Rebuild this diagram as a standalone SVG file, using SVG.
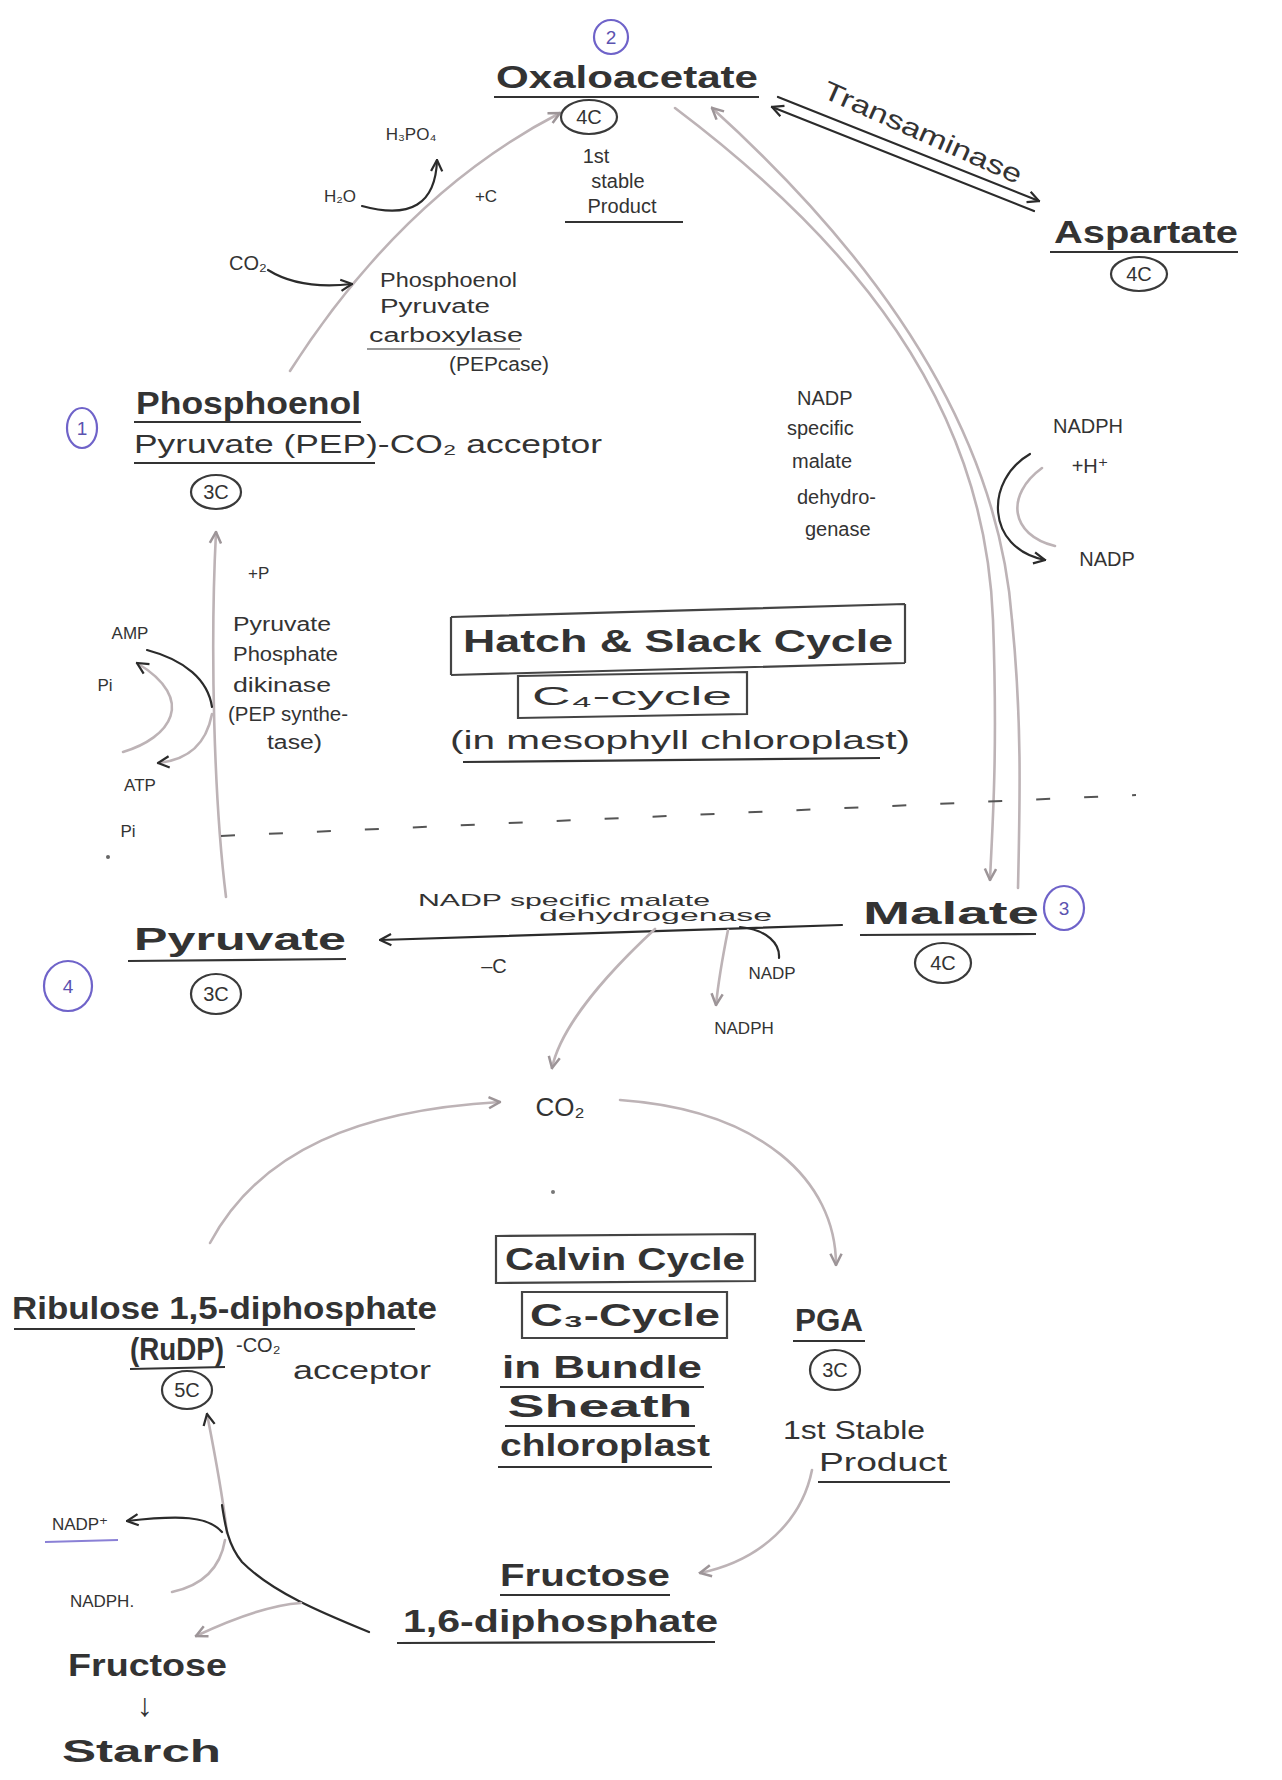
<svg xmlns="http://www.w3.org/2000/svg" width="1282" height="1780" viewBox="0 0 1282 1780">
<defs>
<style>
text{font-family:"Liberation Sans","DejaVu Sans",sans-serif;fill:#333333}
.t{font-size:20px}
.tb{font-size:32px;font-weight:bold}
.tm{font-size:26px}
.ts{font-size:17px}
.dk{fill:none;stroke:#2b2b2b;stroke-width:2.2;stroke-linecap:round}
.ft{fill:none;stroke:#bdb3b6;stroke-width:2.6;stroke-linecap:round}
.ul{fill:none;stroke:#333;stroke-width:2.2}
.c{fill:none;stroke:#3a3a3a;stroke-width:2.2}
.p{fill:none;stroke:#6f63c9;stroke-width:2.2}
.pt{fill:#5b52b0;font-size:19px}
.box{fill:none;stroke:#444;stroke-width:2.2}
</style>
<marker id="ad" viewBox="0 0 10 10" refX="9" refY="5" markerWidth="14" markerHeight="14" markerUnits="userSpaceOnUse" orient="auto-start-reverse"><path d="M1 1 L9 5 L1 9" fill="none" stroke="#2b2b2b" stroke-width="1.6"/></marker>
<marker id="af" viewBox="0 0 10 10" refX="9" refY="5" markerWidth="14" markerHeight="14" markerUnits="userSpaceOnUse" orient="auto-start-reverse"><path d="M1 1 L9 5 L1 9" fill="none" stroke="#9d9598" stroke-width="1.8"/></marker>
</defs>
<rect width="1282" height="1780" fill="#ffffff"/>

<g id="connectors">
<path class="ft" d="M290 371 C345 285 430 180 560 113" marker-end="url(#af)"/>
<path class="dk" d="M362 206 Q435 226 437 160" marker-end="url(#ad)"/>
<path class="dk" d="M268 270 Q300 290 352 284" marker-end="url(#ad)"/>
<path class="dk" d="M778 97 L1039 201" marker-end="url(#ad)"/>
<path class="dk" d="M772 107 L1034 211" marker-start="url(#ad)"/>
<path class="ft" d="M675 108 C850 240 985 400 993 620 C998 760 992 830 990 880" marker-end="url(#af)"/>
<path class="ft" d="M1018 888 C1020 800 1022 720 1012 620 C998 430 880 260 712 108" marker-end="url(#af)"/>
<path class="dk" d="M1030 454 C985 480 985 548 1045 560" marker-end="url(#ad)"/>
<path class="ft" d="M1042 468 C1005 495 1010 535 1055 546"/>
<path class="ft" d="M226 897 C214 800 210 650 216 532" marker-end="url(#af)"/>
<path class="dk" d="M147 650 C185 660 208 680 212 707"/>
<path class="ft" d="M123 752 C170 738 198 700 137 663" marker-end="url(#ad)"/>
<path class="ft" d="M212 714 C206 745 188 760 158 763" marker-end="url(#ad)"/>
<path d="M221 836 L1136 795" fill="none" stroke="#555" stroke-width="2" stroke-dasharray="14 34"/>
<path class="dk" d="M842 925 L380 940" marker-end="url(#ad)"/>
<path class="dk" d="M740 927 C768 930 780 944 779 958"/>
<path class="ft" d="M728 930 C722 960 718 985 716 1005" marker-end="url(#af)"/>
<path class="ft" d="M655 929 C600 980 560 1030 552 1068" marker-end="url(#af)"/>
<path class="ft" d="M210 1243 C260 1150 360 1110 500 1102" marker-end="url(#af)"/>
<path class="ft" d="M620 1100 C760 1110 836 1180 836 1265" marker-end="url(#af)"/>
<path class="ft" d="M812 1470 C802 1520 762 1560 700 1573" marker-end="url(#af)"/>
<path class="ft" d="M227 1533 C222 1490 214 1450 207 1414" marker-end="url(#ad)"/>
<path class="dk" d="M369 1632 C320 1612 272 1592 242 1562 C228 1545 225 1525 222 1505"/>
<path class="dk" d="M222 1532 C208 1516 180 1515 127 1521" marker-end="url(#ad)"/>
<path class="ft" d="M225 1540 C220 1570 200 1586 172 1592"/>
<path class="ft" d="M301 1603 C270 1605 230 1620 196 1636" marker-end="url(#af)"/>
</g>

<g id="n2"><ellipse class="p" cx="611" cy="37" rx="17" ry="17"/><text class="pt" x="611" y="44" text-anchor="middle">2</text></g>
<g id="oxaloacetate">
<text class="tb" x="496" y="88" textLength="262" lengthAdjust="spacingAndGlyphs">Oxaloacetate</text>
<path class="ul" d="M494 97 L759 97"/>
<ellipse class="c" cx="589" cy="117" rx="28" ry="17"/><text class="t" x="589" y="124" text-anchor="middle">4C</text>
<text class="t" x="596" y="163" text-anchor="middle">1st</text>
<text class="t" x="618" y="188" text-anchor="middle">stable</text>
<text class="t" x="622" y="213" text-anchor="middle">Product</text>
<path class="ul" d="M565 222 L683 222"/>
</g>
<g id="transaminase"><text class="tm" x="922" y="141" text-anchor="middle" transform="rotate(24 922 134)" textLength="215" lengthAdjust="spacingAndGlyphs">Transaminase</text></g>
<g id="aspartate">
<text class="tb" x="1054" y="243" textLength="184" lengthAdjust="spacingAndGlyphs">Aspartate</text>
<path class="ul" d="M1050 252 L1238 252"/>
<ellipse class="c" cx="1139" cy="274" rx="28" ry="17"/><text class="t" x="1139" y="281" text-anchor="middle">4C</text>
</g>
<g id="h2o-labels">
<text class="ts" x="411" y="140" text-anchor="middle">H₃PO₄</text>
<text class="ts" x="340" y="202" text-anchor="middle">H₂O</text>
<text class="ts" x="486" y="202" text-anchor="middle">+C</text>
</g>
<g id="pepcase">
<text class="t" x="248" y="270" text-anchor="middle">CO₂</text>
<text class="t" x="380" y="287" textLength="137" lengthAdjust="spacingAndGlyphs">Phosphoenol</text>
<text class="t" x="380" y="313" textLength="110" lengthAdjust="spacingAndGlyphs">Pyruvate</text>
<text class="t" x="369" y="342" textLength="154" lengthAdjust="spacingAndGlyphs">carboxylase</text>
<path class="ul" d="M367 349 L520 349" stroke-opacity="0.5"/>
<text class="t" x="449" y="371" textLength="100" lengthAdjust="spacingAndGlyphs">(PEPcase)</text>
</g>
<g id="pep">
<ellipse class="p" cx="82" cy="428" rx="15" ry="20"/><text class="pt" x="82" y="435" text-anchor="middle">1</text>
<text class="tb" x="136" y="414" textLength="225" lengthAdjust="spacingAndGlyphs">Phosphoenol</text>
<path class="ul" d="M134 422 L361 422"/>
<text class="tm" x="134" y="453" textLength="468" lengthAdjust="spacingAndGlyphs">Pyruvate (PEP)-CO₂ acceptor</text>
<path class="ul" d="M134 463 L375 463"/>
<ellipse class="c" cx="216" cy="492" rx="25" ry="17"/><text class="t" x="216" y="499" text-anchor="middle">3C</text>
</g>
<g id="malic-enzyme-top">
<text class="t" x="797" y="405">NADP</text>
<text class="t" x="787" y="435">specific</text>
<text class="t" x="792" y="468">malate</text>
<text class="t" x="797" y="504">dehydro-</text>
<text class="t" x="805" y="536">genase</text>
<text class="t" x="1088" y="433" text-anchor="middle">NADPH</text>
<text class="t" x="1090" y="473" text-anchor="middle">+H⁺</text>
<text class="t" x="1107" y="566" text-anchor="middle">NADP</text>
</g>
<g id="hatch-slack-box">
<path class="box" d="M451 617 L905 604 M451 675 L905 663 M451 617 L451 675 M905 604 L905 663"/>
<text class="tb" x="678" y="652" text-anchor="middle" textLength="430" lengthAdjust="spacingAndGlyphs">Hatch &amp; Slack Cycle</text>
<path class="box" d="M518 676 L747 672 L747 714 L518 718 Z"/>
<text class="tm" x="632" y="705" text-anchor="middle" textLength="200" lengthAdjust="spacingAndGlyphs">C₄-cycle</text>
<text class="tm" x="680" y="749" text-anchor="middle" textLength="460" lengthAdjust="spacingAndGlyphs">(in mesophyll chloroplast)</text>
<path class="ul" d="M463 762 L880 758"/>
</g>
<g id="ppdk">
<text class="ts" x="248" y="579">+P</text>
<text class="t" x="233" y="631" textLength="98" lengthAdjust="spacingAndGlyphs">Pyruvate</text>
<text class="t" x="233" y="661" textLength="105" lengthAdjust="spacingAndGlyphs">Phosphate</text>
<text class="t" x="233" y="692" textLength="98" lengthAdjust="spacingAndGlyphs">dikinase</text>
<text class="t" x="228" y="721" textLength="120" lengthAdjust="spacingAndGlyphs">(PEP synthe-</text>
<text class="t" x="267" y="749" textLength="55" lengthAdjust="spacingAndGlyphs">tase)</text>
<text class="ts" x="130" y="639" text-anchor="middle">AMP</text>
<text class="ts" x="105" y="691" text-anchor="middle">Pi</text>
<text class="ts" x="140" y="791" text-anchor="middle">ATP</text>
<text class="ts" x="128" y="837" text-anchor="middle">Pi</text>
<circle cx="108" cy="857" r="2" fill="#666"/>
</g>
<g id="pyruvate">
<ellipse class="p" cx="68" cy="986" rx="24" ry="25"/><text class="pt" x="68" y="993" text-anchor="middle">4</text>
<text class="tb" x="134" y="950" textLength="212" lengthAdjust="spacingAndGlyphs">Pyruvate</text>
<path class="ul" d="M128 961 L346 959"/>
<ellipse class="c" cx="216" cy="994" rx="25" ry="20"/><text class="t" x="216" y="1001" text-anchor="middle">3C</text>
</g>
<g id="malic-enzyme-bottom">
<text class="ts" x="418" y="906" textLength="292" lengthAdjust="spacingAndGlyphs">NADP specific malate</text>
<text class="ts" x="539" y="921" textLength="233" lengthAdjust="spacingAndGlyphs">dehydrogenase</text>
<text class="t" x="494" y="973" text-anchor="middle">–C</text>
<text class="ts" x="772" y="979" text-anchor="middle">NADP</text>
<text class="ts" x="744" y="1034" text-anchor="middle">NADPH</text>
</g>
<g id="malate">
<text class="tb" x="863" y="924" textLength="176" lengthAdjust="spacingAndGlyphs">Malate</text>
<path class="ul" d="M860 935 L1036 934"/>
<ellipse class="c" cx="943" cy="963" rx="28" ry="20"/><text class="t" x="943" y="970" text-anchor="middle">4C</text>
<ellipse class="p" cx="1064" cy="908" rx="20" ry="22"/><text class="pt" x="1064" y="915" text-anchor="middle">3</text>
</g>
<g id="co2"><text class="tm" x="560" y="1116" text-anchor="middle">CO₂</text><circle cx="553" cy="1192" r="2" fill="#777"/></g>
<g id="calvin-box">
<path class="box" d="M496 1236 L755 1234 L755 1281 L496 1283 Z"/>
<text class="tb" x="625" y="1270" text-anchor="middle" textLength="240" lengthAdjust="spacingAndGlyphs">Calvin Cycle</text>
<path class="box" d="M522 1292 L727 1292 L727 1338 L522 1338 Z"/>
<text class="tb" x="625" y="1326" text-anchor="middle" textLength="190" lengthAdjust="spacingAndGlyphs">C₃-Cycle</text>
<text class="tb" x="602" y="1378" text-anchor="middle" textLength="200" lengthAdjust="spacingAndGlyphs">in Bundle</text>
<path class="ul" d="M500 1387 L704 1387"/>
<text class="tb" x="600" y="1417" text-anchor="middle" textLength="185" lengthAdjust="spacingAndGlyphs">Sheath</text>
<path class="ul" d="M505 1426 L695 1426"/>
<text class="tb" x="605" y="1456" text-anchor="middle" textLength="210" lengthAdjust="spacingAndGlyphs">chloroplast</text>
<path class="ul" d="M498 1467 L712 1467"/>
</g>
<g id="pga">
<text class="tb" x="829" y="1331" text-anchor="middle" textLength="68" lengthAdjust="spacingAndGlyphs">PGA</text>
<path class="ul" d="M793 1341 L865 1341"/>
<ellipse class="c" cx="835" cy="1370" rx="25" ry="20"/><text class="t" x="835" y="1377" text-anchor="middle">3C</text>
<text class="tm" x="854" y="1439" text-anchor="middle" textLength="142" lengthAdjust="spacingAndGlyphs">1st Stable</text>
<text class="tm" x="883" y="1471" text-anchor="middle" textLength="128" lengthAdjust="spacingAndGlyphs">Product</text>
<path class="ul" d="M818 1482 L950 1482"/>
</g>
<g id="rudp">
<text class="tb" x="12" y="1319" textLength="425" lengthAdjust="spacingAndGlyphs">Ribulose 1,5-diphosphate</text>
<path class="ul" d="M14 1329 L415 1329"/>
<text class="tb" x="130" y="1360" textLength="94" lengthAdjust="spacingAndGlyphs">(RuDP)</text>
<path class="ul" d="M130 1369 L225 1367"/>
<text class="t" x="236" y="1352">-CO₂</text>
<text class="tm" x="293" y="1379" textLength="138" lengthAdjust="spacingAndGlyphs">acceptor</text>
<ellipse class="c" cx="187" cy="1390" rx="25" ry="19"/><text class="t" x="187" y="1397" text-anchor="middle">5C</text>
</g>
<g id="nadp-cofactors">
<text class="ts" x="80" y="1530" text-anchor="middle">NADP⁺</text>
<path d="M45 1542 L118 1540" fill="none" stroke="#8a80d6" stroke-width="2"/>
<text class="ts" x="102" y="1607" text-anchor="middle">NADPH.</text>
</g>
<g id="fbp">
<text class="tb" x="500" y="1586" textLength="170" lengthAdjust="spacingAndGlyphs">Fructose</text>
<path class="ul" d="M500 1595 L670 1595"/>
<text class="tb" x="403" y="1632" textLength="315" lengthAdjust="spacingAndGlyphs">1,6-diphosphate</text>
<path class="ul" d="M397 1643 L715 1642"/>
</g>
<g id="starch">
<text class="tb" x="68" y="1676" textLength="159" lengthAdjust="spacingAndGlyphs">Fructose</text>
<text class="tb" x="145" y="1716" text-anchor="middle">↓</text>
<text class="tb" x="62" y="1762" textLength="159" lengthAdjust="spacingAndGlyphs">Starch</text>
</g>
</svg>
